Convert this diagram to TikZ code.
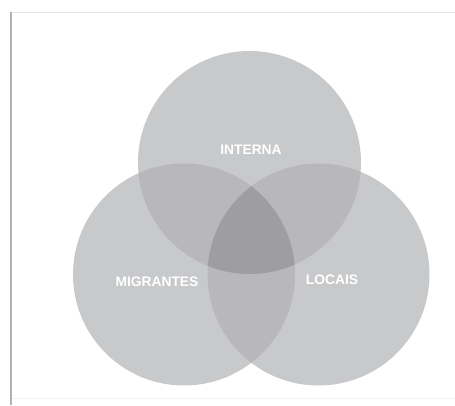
\documentclass[tikz,border=0pt]{standalone}
\usepackage{fontspec}
\setmainfont{Liberation Sans}
\definecolor{umcirc}{HTML}{C8C9CB}
\definecolor{doiscirc}{HTML}{B8B8BA}
\definecolor{trescirc}{HTML}{9E9DA0}
\tikzset{rotulo/.style={text=white, font=\bfseries\fontsize{13.8}{15}\selectfont}}
\begin{document}
\begin{tikzpicture}[x=1pt,y=-1pt]
    \useasboundingbox (0,0) rectangle (455,405);
    % moldura
    \draw[gray!18] (11,12) -- (455,12);
    \draw[gray!10] (11,398) -- (455,398);
    \draw[gray!60, line width=1.8pt] (11,12) -- (11,405);
    % centros
    \coordinate (cInterna) at (249.5,162.5);
    \coordinate (cMigrantes) at (184,274.5);
    \coordinate (cLocais) at (318.5,274.5);
    % circulos
    \fill[umcirc] (cInterna) circle (111.5pt);
    \fill[umcirc] (cMigrantes) circle (111pt);
    \fill[umcirc] (cLocais) circle (111pt);
    % intersecoes de dois
    \begin{scope}
        \clip (cInterna) circle (111.5pt);
        \fill[doiscirc] (cMigrantes) circle (111pt);
        \fill[doiscirc] (cLocais) circle (111pt);
    \end{scope}
    \begin{scope}
        \clip (cMigrantes) circle (111pt);
        \fill[doiscirc] (cLocais) circle (111pt);
    \end{scope}
    % intersecao dos tres
    \begin{scope}
        \clip (cInterna) circle (111.5pt);
        \clip (cMigrantes) circle (111pt);
        \fill[trescirc] (cLocais) circle (111pt);
    \end{scope}
    % rotulos
    \node[rotulo] (tInterna) at (251,150) {INTERNA};
    \node[rotulo] (tMigrantes) at (157,282) {MIGRANTES};
    \node[rotulo] (tLocais) at (332,280) {LOCAIS};
\end{tikzpicture}
\end{document}
